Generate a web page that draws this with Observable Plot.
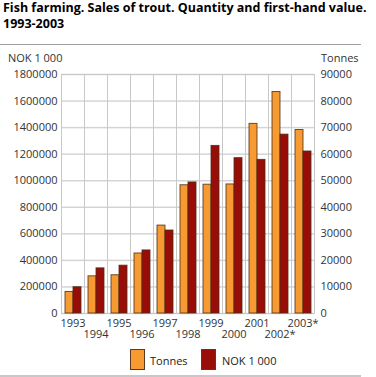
<!DOCTYPE html>
<html>
<head>
<meta charset="utf-8">
<script src="https://cdn.jsdelivr.net/npm/d3@7"></script>
<script src="https://cdn.jsdelivr.net/npm/@observablehq/plot@0.6"></script>
<style>
  body { margin: 0; background: #fff; }
  #wrap { position: relative; width: 376px; height: 377px; overflow: hidden; font-family: "Open Sans", sans-serif; color: #222; }
  #title { position: absolute; left: 3px; top: 0px; font-size: 12.5px; font-weight: bold; line-height: 16px; color: #000; white-space: nowrap; }
  #sep { position: absolute; left: 0; top: 44px; width: 361px; height: 1px; background: #a0a0a0; }
  .axt { position: absolute; top: 50px; font-size: 11px; color: #333; }
  #chart { position: absolute; left: 0; top: 50px; }
  #legend { position: absolute; top: 349px; left: 0; width: 376px; height: 22px; font-size: 11px; color: #222; }
  .sw { position: absolute; top: 0; width: 15px; height: 21px; box-sizing: border-box; border: 1px solid #5a3a20; }
  .lt { position: absolute; top: 4px; }
  #bottom { position: absolute; left: 0; top: 375px; width: 361px; height: 2px; background: #c8c8c8; }
</style>
</head>
<body>
<div id="wrap">
  <div id="title">Fish farming. Sales of trout. Quantity and first-hand value.<br>1993-2003</div>
  <div id="sep"></div>
  <div class="axt" style="left:8px">NOK 1 000</div>
  <div class="axt" style="left:321px">Tonnes</div>
  <div id="chart"></div>
  <div id="legend"></div>
  <div id="bottom"></div>
</div>
<script>
const years = ["1993","1994","1995","1996","1997","1998","1999","2000","2001","2002*","2003*"];
const tonnes = [8100, 14000, 14400, 22600, 33100, 48300, 48500, 48600, 71400, 83400, 69100];
const nok = [198000, 340000, 360000, 475000, 625000, 987000, 1262000, 1170000, 1157000, 1347000, 1220000];
const seriesNames = ["Tonnes", "NOK 1 000"];
const seriesColors = ["#F89A32", "#990D09"];
const yTicks = [0, 200000, 400000, 600000, 800000, 1000000, 1200000, 1400000, 1600000, 1800000];

const ratio = 1800000 / 90000;
const rows = [];
years.forEach((y, i) => {
  rows.push({year: y, series: seriesNames[0], value: tonnes[i] * ratio});
  rows.push({year: y, series: seriesNames[1], value: nok[i]});
});

const row1 = years.filter((d, i) => i % 2 === 0);
const row2 = years.filter((d, i) => i % 2 === 1);

const chart = Plot.plot({
  width: 376,
  height: 294,
  marginTop: 24,
  marginBottom: 31,
  marginLeft: 58,
  marginRight: 60,
  style: {fontFamily: "Open Sans, sans-serif", fontSize: "11px", color: "#333", background: "transparent"},
  fx: {domain: years, padding: 0, label: null, axis: null},
  x: {domain: seriesNames, axis: null, paddingInner: 0, paddingOuter: 0.42},
  y: {domain: [0, 1800000], axis: null},
  color: {domain: seriesNames, range: seriesColors},
  marks: [
    Plot.gridY(yTicks, {stroke: "#d4d4d4", strokeOpacity: 1, strokeWidth: 1.5}),
    Plot.frame({stroke: "#c8c8c8", strokeWidth: 1}),
    Plot.barY(rows, {fx: "year", x: "series", y: "value", fill: "series", stroke: "#4a2a14", strokeWidth: 1, strokeOpacity: 0.8}),
    Plot.axisY(yTicks, {anchor: "left", tickSize: 0, tickPadding: 4, tickFormat: d3.format("d"), label: null, fill: "#333"}),
    Plot.axisY(yTicks, {anchor: "right", tickSize: 0, tickPadding: 6, tickFormat: d => d3.format("d")(d / ratio), label: null, fill: "#333"}),
    Plot.axisFx({anchor: "bottom", tickSize: 0, tickPadding: 6, label: null, fill: "#333", tickFormat: d => row1.includes(d) ? d : ""}),
    Plot.axisFx({anchor: "bottom", tickSize: 0, tickPadding: 17, label: null, fill: "#333", tickFormat: d => row2.includes(d) ? d : ""})
  ]
});
document.getElementById("chart").appendChild(chart);

const legend = document.getElementById("legend");
const pos = [[130, 150], [201, 222]];
seriesNames.forEach((name, i) => {
  const sw = document.createElement("div");
  sw.className = "sw";
  sw.style.left = pos[i][0] + "px";
  sw.style.background = seriesColors[i];
  legend.appendChild(sw);
  const t = document.createElement("div");
  t.className = "lt";
  t.style.left = pos[i][1] + "px";
  t.textContent = name;
  legend.appendChild(t);
});
</script>
</body>
</html>
